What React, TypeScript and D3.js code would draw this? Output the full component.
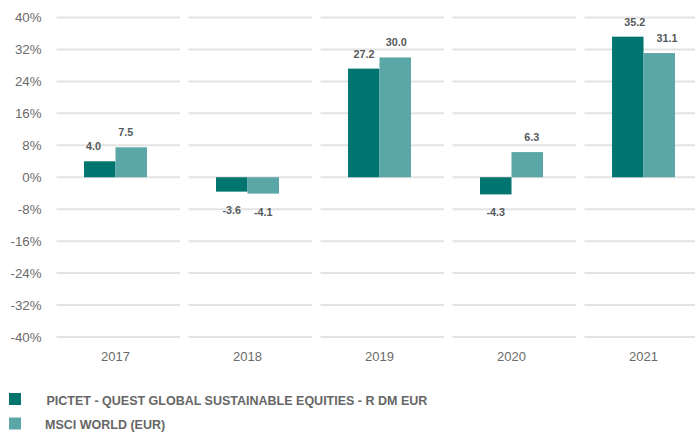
import React from "react";
import * as d3 from "d3";

const years = ["2017", "2018", "2019", "2020", "2021"];
const fundValues = [4.0, -3.6, 27.2, -4.3, 35.2];
const indexValues = [7.5, -4.1, 30.0, 6.3, 31.1];
const seriesNames = [
  "PICTET - QUEST GLOBAL SUSTAINABLE EQUITIES - R DM EUR",
  "MSCI WORLD (EUR)",
];
const yTicks = [40, 32, 24, 16, 8, 0, -8, -16, -24, -32, -40];

const W = 700;
const H = 432;
const COLORS = ["#00746F", "#5BA6A7"];

export default function App() {
  const x = d3.scaleBand<string>().domain(years).range([50.5, 710.5]).padding(0);
  const y = d3.scaleLinear().domain([-40, 40]).range([337, 17.5]);
  const groupW = 63;
  const barW = groupW / 2;
  const series = [fundValues, indexValues];

  return (
    <svg
      width={W}
      height={H}
      style={{ position: "absolute", left: 0, top: 0, background: "#fff" }}
      fontFamily="'Liberation Sans', Arial, sans-serif"
    >
      {yTicks.map((t) =>
        years.map((yr) => {
          const x0 = (x(yr) as number) + 6;
          const x1 = Math.min((x(yr) as number) + x.bandwidth() - 2.5, 695);
          return (
            <line
              key={`${t}-${yr}`}
              x1={x0}
              x2={x1}
              y1={y(t)}
              y2={y(t)}
              stroke="#e3e3e3"
              strokeWidth={2}
            />
          );
        })
      )}
      {yTicks.map((t) => (
        <text
          key={`yl-${t}`}
          x={41.5}
          y={y(t) + 4.5}
          textAnchor="end"
          fontSize={13.3}
          fill="#6b6b6b"
        >
          {`${t}%`}
        </text>
      ))}
      {series.map((vals, si) =>
        vals.map((v, i) => {
          const cx = (x(years[i]) as number) + x.bandwidth() / 2 - 1;
          const bx = cx - groupW / 2 + si * barW;
          const top = y(Math.max(0, v));
          const bottom = y(Math.min(0, v));
          return (
            <rect
              key={`b-${si}-${i}`}
              x={bx}
              y={top}
              width={barW}
              height={bottom - top}
              fill={COLORS[si]}
            />
          );
        })
      )}
      {series.map((vals, si) =>
        vals.map((v, i) => {
          const cx = (x(years[i]) as number) + x.bandwidth() / 2 - 1;
          const bc = cx - groupW / 2 + si * barW + barW / 2;
          const shift = v >= 0 ? (bc - 350) * 0.025 : 0;
          const ly = v >= 0 ? y(v) - 11 : y(v) + 22;
          return (
            <text
              key={`l-${si}-${i}`}
              x={bc + shift}
              y={ly}
              textAnchor="middle"
              fontSize={10.8}
              fontWeight="bold"
              fill="#555a5c"
            >
              {v.toFixed(1)}
            </text>
          );
        })
      )}
      {years.map((yr) => (
        <text
          key={`xl-${yr}`}
          x={(x(yr) as number) + x.bandwidth() / 2 - 1}
          y={361}
          textAnchor="middle"
          fontSize={13}
          fill="#6b6b6b"
        >
          {yr}
        </text>
      ))}
      {seriesNames.map((name, i) => (
        <g key={`lg-${i}`}>
          <rect x={9} y={393 + i * 24.5} width={12} height={12} fill={COLORS[i]} />
          <text
            x={i === 0 ? 46.5 : 45}
            y={404.5 + i * 24.5}
            fontSize={12.5}
            fontWeight="bold"
            fill="#666"
          >
            {name}
          </text>
        </g>
      ))}
    </svg>
  );
}
